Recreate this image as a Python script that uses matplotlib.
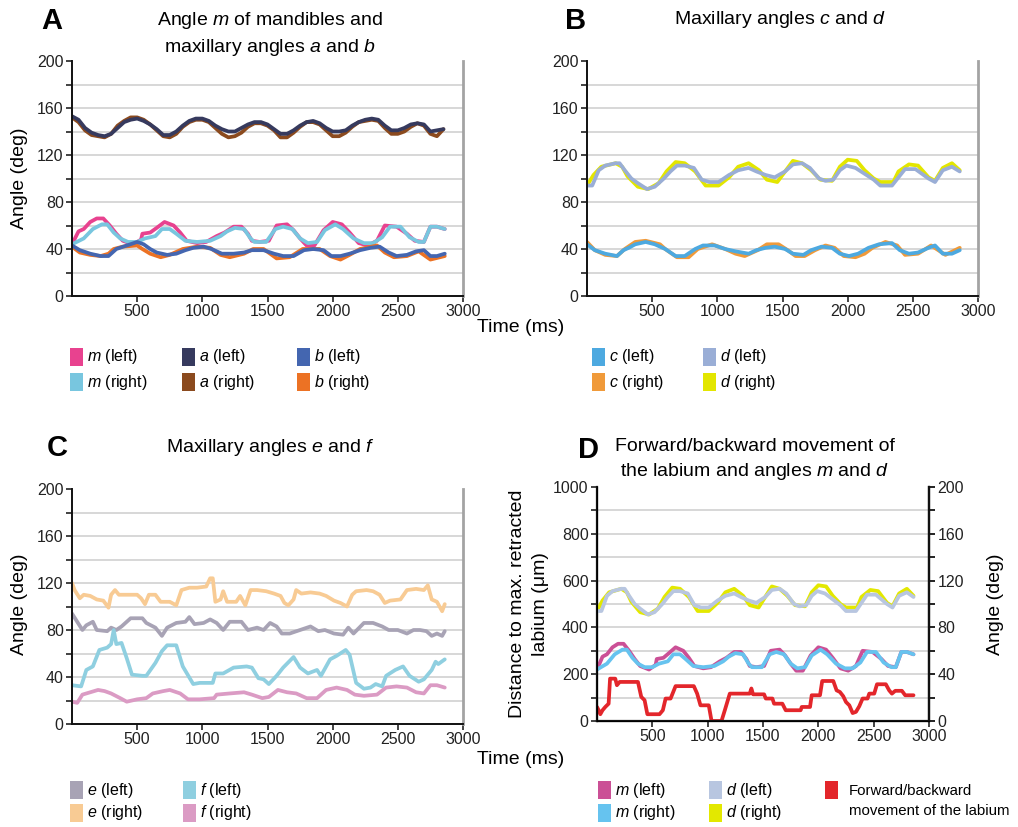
import numpy as np
import matplotlib
matplotlib.use('Agg')
import matplotlib.pyplot as plt
from matplotlib.patches import Rectangle

plt.rcParams['font.family'] = ['Liberation Sans', 'DejaVu Sans']
plt.rcParams['mathtext.fontset'] = 'custom'
plt.rcParams['mathtext.rm'] = 'Liberation Sans'
plt.rcParams['mathtext.it'] = 'Liberation Sans:italic'
plt.rcParams['mathtext.bf'] = 'Liberation Sans:bold'

# ---------------- DATA ----------------
# Panel A: angle m (mandibles) and maxillary angles a, b
m_left_t = [0, 50, 90, 140, 190, 240, 290, 340, 390, 470, 530, 540, 600, 650, 710, 780, 830, 880, 960, 1030,
            1110, 1170, 1240, 1300, 1350, 1380, 1440, 1510, 1570, 1650, 1700, 1750, 1800, 1860, 1930, 2000, 2070, 2130, 2200, 2270,
            2340, 2400, 2490, 2570, 2630, 2700, 2750, 2800, 2860]
m_left = [44, 55, 57, 63, 66, 66, 60, 53, 47, 44, 48, 53, 54, 58, 63, 60, 54, 47, 45, 46,
          51, 54, 59, 59, 53, 47, 46, 47, 60, 61, 56, 49, 43, 43, 56, 63, 61, 54, 45, 43,
          47, 60, 59, 53, 47, 46, 59, 59, 57]
m_right_t = [0, 90, 160, 230, 270, 320, 370, 430, 500, 560, 640, 690, 750, 800, 870, 960, 1060, 1140, 1190, 1250,
             1320, 1370, 1400, 1490, 1560, 1620, 1690, 1750, 1810, 1880, 1940, 2020, 2080, 2160, 2240, 2310, 2380, 2440, 2520, 2590,
             2660, 2700, 2750, 2800, 2860]
m_right = [44, 49, 57, 61, 61, 54, 49, 46, 46, 49, 51, 57, 57, 53, 47, 46, 47, 51, 55, 58,
           57, 49, 46, 46, 57, 59, 57, 49, 45, 46, 56, 61, 57, 49, 45, 45, 50, 59, 59, 50,
           46, 46, 59, 59, 57]
a_t = list(range(0, 2851, 50))
a_left = [153, 150, 143, 139, 137, 136, 138, 143, 148, 150, 151, 149, 146, 142, 137, 137, 140, 145, 149, 151,
          151, 149, 145, 142, 140, 140, 143, 146, 148, 148, 146, 142, 138, 138, 141, 145, 148, 149, 147, 143,
          140, 140, 141, 145, 148, 150, 151, 150, 145, 141, 141, 143, 146, 147, 146, 140, 141, 142]
a_right = [152, 148, 141, 137, 136, 135, 138, 145, 149, 152, 152, 150, 146, 141, 136, 135, 138, 144, 148, 150,
           150, 148, 143, 138, 135, 136, 139, 144, 147, 147, 145, 141, 135, 135, 139, 144, 148, 148, 146, 141,
           136, 136, 139, 144, 148, 149, 150, 149, 143, 138, 138, 140, 144, 147, 145, 138, 136, 142]
b_left_t = [0, 60, 140, 220, 280, 340, 420, 500, 550, 600, 650, 730, 800, 870, 930, 1010, 1070, 1150, 1240, 1320,
            1380, 1470, 1550, 1620, 1700, 1780, 1850, 1930, 1990, 2060, 2130, 2210, 2290, 2360, 2430, 2490, 2570, 2640, 2700, 2750,
            2800, 2860]
b_left = [43, 39, 36, 34, 34, 40, 43, 46, 44, 40, 37, 35, 36, 39, 41, 42, 40, 36, 36, 37,
          39, 39, 36, 34, 34, 39, 40, 39, 34, 34, 36, 39, 41, 42, 37, 34, 35, 38, 39, 34, 34, 36]
b_right_t = [0, 60, 140, 220, 280, 320, 390, 500, 540, 600, 680, 750, 850, 960, 1060, 1140, 1210, 1320, 1390, 1470,
             1570, 1670, 1770, 1900, 1980, 2060, 2130, 2210, 2340, 2400, 2470, 2570, 2660, 2750, 2860]
b_right = [42, 37, 35, 34, 36, 40, 42, 43, 40, 36, 33, 35, 40, 42, 41, 35, 33, 36, 40, 40,
           32, 33, 40, 40, 34, 31, 35, 40, 43, 37, 33, 34, 38, 31, 34]

# Panel B: maxillary angles c, d
c_left_t = [0, 60, 140, 230, 280, 320, 370, 450, 520, 600, 680, 750, 830, 890, 980, 1060, 1140, 1240, 1300, 1370,
            1440, 1520, 1580, 1660, 1720, 1800, 1880, 1940, 2010, 2080, 2160, 2240, 2340, 2400, 2470, 2540, 2620, 2670, 2730, 2800, 2860]
c_left = [44, 39, 36, 34, 39, 41, 44, 46, 44, 40, 34, 34, 40, 43, 43, 40, 38, 36, 39, 41,
          42, 40, 36, 35, 39, 42, 41, 36, 34, 36, 41, 44, 45, 39, 36, 37, 41, 43, 36, 36, 39]
c_right_t = [0, 60, 140, 230, 290, 370, 450, 560, 600, 690, 780, 850, 960, 1060, 1140, 1210, 1310, 1380, 1470, 1540,
             1600, 1670, 1750, 1830, 1900, 1970, 2060, 2130, 2190, 2290, 2380, 2440, 2540, 2640, 2750, 2860]
c_right = [46, 39, 35, 34, 40, 46, 47, 44, 40, 33, 33, 40, 44, 40, 36, 34, 39, 44, 44, 39,
           34, 34, 39, 43, 41, 34, 33, 36, 41, 46, 43, 35, 36, 43, 35, 41]
d_left_t = [0, 40, 90, 140, 220, 250, 290, 340, 390, 460, 520, 590, 640, 690, 750, 820, 880, 940, 1010, 1090,
            1160, 1240, 1300, 1370, 1440, 1520, 1580, 1650, 1710, 1780, 1830, 1890, 1940, 1990, 2060, 2130, 2200, 2250, 2340, 2390,
            2440, 2520, 2570, 2620, 2670, 2730, 2800, 2860]
d_left = [94, 94, 107, 111, 113, 113, 107, 100, 96, 91, 93, 100, 106, 111, 111, 109, 99, 97, 97, 103,
          107, 109, 106, 103, 101, 106, 112, 113, 109, 100, 98, 99, 107, 111, 109, 104, 99, 94, 94, 101,
          108, 108, 104, 100, 97, 107, 110, 106]
d_right_t = [0, 50, 110, 220, 270, 310, 390, 470, 550, 610, 680, 750, 830, 910, 1010, 1090, 1160, 1240, 1320, 1380,
             1460, 1520, 1580, 1650, 1720, 1790, 1880, 1940, 2000, 2070, 2130, 2200, 2250, 2350, 2390, 2470, 2540, 2620, 2670, 2730,
             2800, 2860]
d_right = [94, 103, 110, 113, 110, 102, 93, 91, 96, 106, 114, 113, 106, 94, 94, 101, 110, 113, 107, 99,
           97, 106, 115, 113, 107, 99, 98, 110, 116, 115, 107, 100, 97, 97, 106, 112, 111, 101, 98, 109,
           113, 107]

# Panel C: maxillary angles e, f
e_left_t = [0, 40, 80, 110, 160, 190, 270, 300, 340, 380, 450, 540, 570, 640, 690, 730, 800, 870, 900, 940,
            1010, 1060, 1110, 1160, 1210, 1300, 1350, 1420, 1470, 1520, 1570, 1610, 1670, 1750, 1830, 1890, 1940, 2010, 2080, 2120,
            2160, 2240, 2310, 2380, 2430, 2500, 2570, 2620, 2670, 2720, 2760, 2800, 2840, 2860]
e_left = [94, 87, 80, 84, 87, 80, 79, 82, 80, 83, 90, 90, 86, 82, 75, 82, 86, 87, 91, 85,
          86, 89, 86, 80, 87, 87, 80, 82, 80, 86, 83, 77, 77, 80, 83, 79, 80, 77, 76, 82,
          77, 86, 86, 83, 80, 80, 77, 80, 80, 79, 75, 77, 75, 79]
e_right_t = [0, 20, 60, 90, 140, 190, 240, 280, 300, 330, 360, 500, 530, 560, 590, 640, 680, 750, 800, 840,
             900, 960, 1030, 1060, 1080, 1100, 1140, 1160, 1190, 1260, 1290, 1330, 1370, 1420, 1490, 1550, 1600, 1630, 1660, 1700,
             1720, 1760, 1830, 1900, 1950, 2010, 2060, 2110, 2150, 2180, 2260, 2310, 2360, 2400, 2440, 2520, 2570, 2640, 2700, 2730,
             2760, 2800, 2840, 2860]
e_right = [120, 114, 107, 110, 109, 106, 105, 99, 110, 114, 110, 110, 107, 102, 110, 110, 104, 104, 101, 114,
           116, 116, 117, 124, 124, 104, 106, 113, 104, 104, 109, 101, 114, 114, 113, 111, 109, 103, 101, 106,
           114, 111, 112, 111, 109, 105, 103, 100, 110, 113, 114, 113, 110, 103, 105, 106, 114, 115, 114, 118,
           106, 104, 96, 102]
f_left_t = [0, 70, 110, 160, 210, 270, 300, 320, 340, 380, 420, 460, 540, 570, 640, 690, 730, 800, 850, 930,
            980, 1080, 1100, 1160, 1240, 1340, 1380, 1430, 1470, 1510, 1570, 1620, 1700, 1750, 1810, 1880, 1910, 1980, 2030, 2100,
            2130, 2180, 2240, 2290, 2330, 2380, 2410, 2480, 2540, 2590, 2660, 2700, 2760, 2790, 2810, 2860]
f_left = [33, 32, 46, 49, 63, 65, 68, 80, 68, 69, 56, 42, 41, 41, 52, 62, 67, 67, 49, 34,
          35, 35, 43, 43, 48, 49, 48, 39, 38, 34, 41, 48, 57, 48, 43, 46, 41, 55, 58, 63,
          59, 35, 30, 31, 34, 32, 41, 46, 49, 41, 36, 38, 46, 53, 51, 55]
f_right_t = [0, 40, 80, 140, 200, 250, 300, 370, 420, 500, 570, 620, 700, 750, 830, 890, 980, 1090, 1110, 1210,
             1320, 1380, 1460, 1510, 1580, 1650, 1720, 1800, 1880, 1950, 2030, 2110, 2170, 2240, 2340, 2410, 2490, 2570, 2640, 2700,
             2750, 2800, 2860]
f_right = [19, 18, 25, 27, 29, 28, 26, 22, 19, 21, 22, 26, 28, 29, 26, 21, 21, 22, 25, 26,
           27, 25, 22, 23, 29, 27, 26, 22, 22, 29, 31, 29, 25, 24, 25, 31, 32, 31, 27, 26,
           33, 33, 31]

# Panel D: labium forward/backward movement (um)
lab_t = [0, 15, 30, 50, 75, 105, 118, 165, 180, 205, 370, 400, 430, 455, 565, 595, 620, 665, 710, 875,
         905, 935, 1010, 1035, 1125, 1155, 1200, 1380, 1395, 1410, 1510, 1525, 1585, 1600, 1675, 1705, 1840, 1850, 1925, 1940,
         2015, 2035, 2135, 2165, 2195, 2225, 2250, 2280, 2310, 2340, 2370, 2400, 2445, 2460, 2505, 2530, 2610, 2640, 2665, 2695,
         2755, 2785, 2860]
lab = [60, 46, 29, 46, 60, 74, 181, 181, 153, 167, 167, 103, 89, 29, 29, 46, 96, 96, 149, 149,
       117, 67, 67, 0, 0, 46, 117, 117, 139, 114, 114, 96, 96, 74, 74, 46, 46, 60, 60, 110,
       110, 171, 171, 131, 124, 106, 81, 67, 34, 39, 63, 96, 96, 117, 117, 157, 157, 131, 117, 129,
       129, 110, 110]

x_ticks = [500, 1000, 1500, 2000, 2500, 3000]
angle_ticks = [0, 40, 80, 120, 160, 200]
angle_minor = [20, 60, 100, 140, 180]
dist_ticks = [0, 200, 400, 600, 800, 1000]
dist_minor = [100, 300, 500, 700, 900]

# ---------------- LAYOUT ----------------
W, H = 1018, 827
fig = plt.figure(figsize=(W / 100, H / 100), dpi=100)


def rect(l, t, r, b):
    return [l / W, 1 - b / H, (r - l) / W, (b - t) / H]


def fx(x):
    return x / W


def fy(y):
    return 1 - y / H


TICK_FS = 11.5
LW = 2.7
GRID_C = '#d4d4d4'


def style_axes(ax, gray_right=True):
    ax.set_xlim(0, 3000)
    ax.set_ylim(0, 200)
    ax.set_xticks(x_ticks)
    ax.set_xticklabels([str(v) for v in x_ticks])
    ax.set_yticks(angle_ticks)
    ax.set_yticklabels([str(v) for v in angle_ticks])
    ax.set_yticks(angle_minor, minor=True)
    for g in angle_minor + angle_ticks[1:-1]:
        ax.axhline(g, color=GRID_C, lw=1.3, zorder=0)
    ax.tick_params(axis='both', which='both', direction='out', length=4, width=1.2,
                   labelsize=TICK_FS, pad=2, colors='#222222')
    ax.spines['top'].set_visible(False)
    for s in ['left', 'bottom']:
        ax.spines[s].set_linewidth(1.4)
        ax.spines[s].set_color('#111111')
    if gray_right:
        ax.spines['right'].set_color('#a3a3a3')
        ax.spines['right'].set_linewidth(2.0)


def line(ax, t, v, c, z=2):
    ax.plot(t, v, color=c, lw=LW, zorder=z, solid_capstyle='round', solid_joinstyle='round')


# Panel A
axA = fig.add_axes(rect(72, 61, 463, 296))
style_axes(axA)
line(axA, m_left_t, m_left, '#e8428f')
line(axA, m_right_t, m_right, '#78c6df')
line(axA, a_t, a_right, '#8b4a1e')
line(axA, a_t, a_left, '#363a5e')
line(axA, b_right_t, b_right, '#ec7224')
line(axA, b_left_t, b_left, '#4466b0')

# Panel B
axB = fig.add_axes(rect(587, 61, 978, 296))
style_axes(axB)
line(axB, d_right_t, d_right, '#e3e600')
line(axB, d_left_t, d_left, '#9aaed6')
line(axB, c_right_t, c_right, '#f09a3a')
line(axB, c_left_t, c_left, '#4da9e0')

# Panel C
axC = fig.add_axes(rect(72, 489, 463, 724))
style_axes(axC)
line(axC, e_right_t, e_right, '#f8cb94')
line(axC, e_left_t, e_left, '#a8a3b5')
line(axC, f_left_t, f_left, '#8fcfe0')
line(axC, f_right_t, f_right, '#db9bc4')

# Panel D
axD = fig.add_axes(rect(597, 487, 929, 721))
axD.set_xlim(0, 3000)
axD.set_ylim(0, 1000)
axD.set_xticks(x_ticks)
axD.set_xticklabels([str(v) for v in x_ticks])
axD.set_yticks(dist_ticks)
axD.set_yticklabels([str(v) for v in dist_ticks])
axD.set_yticks(dist_minor, minor=True)
for g in dist_minor + dist_ticks[1:-1]:
    axD.axhline(g, color=GRID_C, lw=1.3, zorder=0)
axD.tick_params(axis='both', which='both', direction='out', length=4, width=1.2,
                labelsize=TICK_FS, pad=2, colors='#222222')
axD.spines['top'].set_visible(False)
for s in ['left', 'bottom', 'right']:
    axD.spines[s].set_linewidth(1.6)
    axD.spines[s].set_color('#111111')
line(axD, lab_t, lab, '#e3262b')

axD2 = axD.twinx()
axD2.set_ylim(0, 200)
axD2.set_yticks(angle_ticks)
axD2.set_yticklabels([str(v) for v in angle_ticks])
axD2.set_yticks(angle_minor, minor=True)
axD2.tick_params(axis='y', which='both', direction='out', length=4, width=1.4,
                 labelsize=TICK_FS, pad=2, colors='#222222')
axD2.spines['top'].set_visible(False)
axD2.spines['right'].set_linewidth(1.6)
axD2.spines['right'].set_color('#111111')
line(axD2, d_right_t, d_right, '#e3e800')
line(axD2, d_left_t, d_left, '#b8c6e0')
line(axD2, m_left_t, m_left, '#cb5096')
line(axD2, m_right_t, m_right, '#66c3ef')

# ---------------- TEXT ----------------
TITLE_FS = 14
for letter, (x, y) in zip(['A', 'B', 'C', 'D'], [(52, 21), (576, 21), (57, 448), (588, 450)]):
    fig.text(fx(x), fy(y), letter, fontsize=21, fontweight='bold', ha='center', va='center')

fig.text(fx(270), fy(34), 'Angle $m$ of mandibles and\nmaxillary angles $a$ and $b$',
         ha='center', va='center', fontsize=TITLE_FS, linespacing=1.4)
fig.text(fx(780), fy(19), 'Maxillary angles $c$ and $d$', ha='center', va='center', fontsize=TITLE_FS)
fig.text(fx(270), fy(448), 'Maxillary angles $e$ and $f$', ha='center', va='center', fontsize=TITLE_FS)
fig.text(fx(755), fy(460), 'Forward/backward movement of\nthe labium and angles $m$ and $d$',
         ha='center', va='center', fontsize=TITLE_FS, linespacing=1.4)

fig.text(fx(521), fy(328), 'Time (ms)', ha='center', va='center', fontsize=TITLE_FS)
fig.text(fx(521), fy(760), 'Time (ms)', ha='center', va='center', fontsize=TITLE_FS)

fig.text(fx(20), fy(178), 'Angle (deg)', rotation=90, ha='center', va='center', fontsize=TITLE_FS)
fig.text(fx(20), fy(604), 'Angle (deg)', rotation=90, ha='center', va='center', fontsize=TITLE_FS)
fig.text(fx(529), fy(604), 'Distance to max. retracted\nlabium (\u03bcm)', rotation=90,
         ha='center', va='center', fontsize=TITLE_FS, linespacing=1.45)
fig.text(fx(996), fy(604), 'Angle (deg)', rotation=90, ha='center', va='center', fontsize=TITLE_FS)

# ---------------- LEGENDS ----------------
LEG_FS = 11.5


def legend_entry(x, y, color, label, fs=LEG_FS):
    fig.add_artist(Rectangle((fx(x), fy(y + 9)), 13 / W, 18 / H, transform=fig.transFigure,
                             facecolor=color, edgecolor='none'))
    fig.text(fx(x + 17), fy(y), label, ha='left', va='center', fontsize=fs)


legA_labels = ['$m$ (left)', '$m$ (right)', '$a$ (left)', '$a$ (right)', '$b$ (left)', '$b$ (right)']
legA_colors = ['#e8428f', '#78c6df', '#363a5e', '#8b4a1e', '#4466b0', '#ec7224']
legB_labels = ['$c$ (left)', '$c$ (right)', '$d$ (left)', '$d$ (right)']
legB_colors = ['#4da9e0', '#f09a3a', '#9aaed6', '#e3e600']
legC_labels = ['$e$ (left)', '$e$ (right)', '$f$ (left)', '$f$ (right)']
legC_colors = ['#a8a3b5', '#f8cb94', '#8fcfe0', '#db9bc4']
legD_labels = ['$m$ (left)', '$m$ (right)', '$d$ (left)', '$d$ (right)']
legD_colors = ['#cb5096', '#66c3ef', '#b8c6e0', '#e3e800']
labium_label = 'Forward/backward\nmovement of the labium'


def legend_grid(xs, rows, labels, colors):
    for i, (lab_, col) in enumerate(zip(labels, colors)):
        legend_entry(xs[i // 2], rows[i % 2], col, lab_)


legend_grid([70, 182, 297], [357, 382], legA_labels, legA_colors)
legend_grid([592, 703], [357, 382], legB_labels, legB_colors)
legend_grid([70, 183], [790, 813], legC_labels, legC_colors)
legend_grid([598, 709], [790, 813], legD_labels, legD_colors)
fig.add_artist(Rectangle((fx(825), fy(799)), 13 / W, 18 / H, transform=fig.transFigure,
                         facecolor='#e3262b', edgecolor='none'))
fig.text(fx(849), fy(801), labium_label, ha='left', va='center', fontsize=10.8, linespacing=1.55)

fig.savefig('out.png', dpi=100)
